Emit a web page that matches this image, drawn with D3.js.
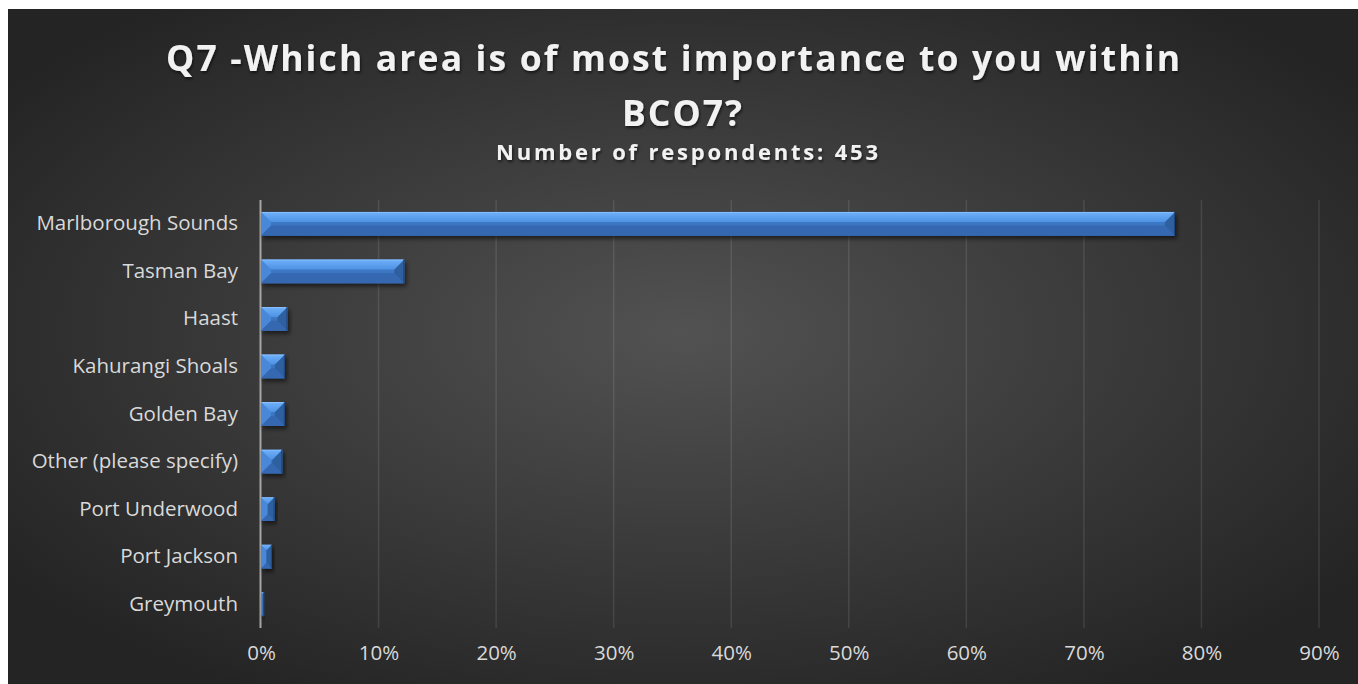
<!DOCTYPE html>
<html>
<head>
<meta charset="utf-8">
<script src="https://cdnjs.cloudflare.com/ajax/libs/d3/7.8.5/d3.min.js"></script>
<style>
  html, body { margin: 0; padding: 0; background: #fff; }
  svg { display: block; }
</style>
</head>
<body>
<div id="root"></div>
<script>
// data
var categories = ["Marlborough Sounds", "Tasman Bay", "Haast", "Kahurangi Shoals", "Golden Bay",
                  "Other (please specify)", "Port Underwood", "Port Jackson", "Greymouth"]
var respondents = [352, 55, 10, 9, 9, 8, 5, 4, 1]
var totalRespondents = 453
var tickValues = [0, 0.1, 0.2, 0.3, 0.4, 0.5, 0.6, 0.7, 0.8, 0.9]
var titleLines = ["Q7 -Which area is of most importance to you within", "BCO7?"]
var subtitle = "Number of respondents: 453"

window.onload = function () {
    var width = 1358, height = 684
    var font = "'Open Sans', 'DejaVu Sans', sans-serif"
    var svg = d3.select("#root").append("svg")
        .attr("width", width)
        .attr("height", height)

    var defs = svg.append("defs")
    var bg = defs.append("radialGradient").attr("id", "bg")
        .attr("cx", "50%").attr("cy", "48%").attr("r", "62%")
    bg.append("stop").attr("offset", "0%").attr("stop-color", "#525252")
    bg.append("stop").attr("offset", "100%").attr("stop-color", "#242424")

    var topG = defs.append("linearGradient").attr("id", "topFacet").attr("x1", 0).attr("y1", 0).attr("x2", 0).attr("y2", 1)
    topG.append("stop").attr("offset", "0%").attr("stop-color", "#95c8ff")
    topG.append("stop").attr("offset", "15%").attr("stop-color", "#6aacf6")
    topG.append("stop").attr("offset", "100%").attr("stop-color", "#4e92e4")
    var bodyG = defs.append("linearGradient").attr("id", "body").attr("x1", 0).attr("y1", 0).attr("x2", 0).attr("y2", 1)
    bodyG.append("stop").attr("offset", "0%").attr("stop-color", "#4484d4")
    bodyG.append("stop").attr("offset", "100%").attr("stop-color", "#3468b0")

    var shadow = defs.append("filter").attr("id", "shadow")
        .attr("x", "-10%").attr("y", "-30%").attr("width", "130%").attr("height", "180%")
    shadow.append("feDropShadow").attr("dx", 2).attr("dy", 3).attr("stdDeviation", 2)
        .attr("flood-color", "#000").attr("flood-opacity", 0.55)
    var tshadow = defs.append("filter").attr("id", "tshadow")
    tshadow.append("feDropShadow").attr("dx", 1).attr("dy", 2).attr("stdDeviation", 1.5)
        .attr("flood-color", "#000").attr("flood-opacity", 0.6)

    svg.append("rect")
        .attr("x", 8).attr("y", 9)
        .attr("width", width - 8).attr("height", height - 9)
        .attr("fill", "url(#bg)")

    // titles
    var title = svg.append("g").attr("filter", "url(#tshadow)")
        .attr("fill", "#f2f2f2").attr("font-family", font).attr("font-weight", "bold")
    title.append("text")
        .attr("x", 673).attr("y", 71)
        .attr("text-anchor", "middle").attr("font-size", 35.5)
        .attr("textLength", 1014).attr("lengthAdjust", "spacing")
        .text(titleLines[0])
    title.append("text")
        .attr("x", 683).attr("y", 126)
        .attr("text-anchor", "middle").attr("font-size", 35.5)
        .attr("letter-spacing", 2)
        .text(titleLines[1])
    title.append("text")
        .attr("x", 687).attr("y", 160)
        .attr("text-anchor", "middle").attr("font-size", 22)
        .attr("textLength", 382).attr("lengthAdjust", "spacing")
        .text(subtitle)

    var x = d3.scaleLinear().domain([0, 0.9]).range([261, 1319])
    var y = d3.scaleBand().domain(categories).range([200, 628]).paddingInner(0.5).paddingOuter(0.25)

    // gridlines
    svg.append("g")
        .selectAll("line")
        .data(tickValues.slice(1))
        .enter()
        .append("line")
        .attr("x1", function (d) { return x(d) })
        .attr("x2", function (d) { return x(d) })
        .attr("y1", 200).attr("y2", 628)
        .attr("stroke", "#ffffff").attr("stroke-opacity", 0.1).attr("stroke-width", 1.5)

    // vertical axis line
    svg.append("line")
        .attr("x1", x(0) - 0.5).attr("x2", x(0) - 0.5)
        .attr("y1", 200).attr("y2", 628)
        .attr("stroke", "#a6a6a6").attr("stroke-width", 2)

    // x axis labels
    var xAxis = d3.axisBottom(x).tickValues(tickValues).tickFormat(d3.format(".0%")).tickSize(0).tickPadding(0)
    var xg = svg.append("g").attr("transform", "translate(0,645)").call(xAxis)
    xg.select(".domain").remove()
    xg.selectAll("text").attr("font-family", font).attr("font-size", 20.5).attr("fill", "#d9d9d9")

    // y axis labels
    var yAxis = d3.axisLeft(y).tickSize(0).tickPadding(23)
    var yg = svg.append("g").attr("transform", "translate(261,0)").call(yAxis)
    yg.select(".domain").remove()
    yg.selectAll("text").attr("font-family", font).attr("font-size", 20.5).attr("fill", "#d9d9d9")

    // bars
    var bars = svg.append("g").selectAll("g.bar")
        .data(categories.map(function (c, i) { return { name: c, value: respondents[i] / totalRespondents } }))
        .enter()
        .append("g")
        .attr("class", "bar")
        .attr("filter", "url(#shadow)")

    bars.each(function (d) {
        var g = d3.select(this)
        var x0 = x(0), x1 = x(d.value) + 0.5
        var y0 = y(d.name), y1 = y0 + y.bandwidth()
        var w = x1 - x0
        var b = Math.min(10, w / 2, y.bandwidth() / 2)
        g.append("rect").attr("x", x0).attr("y", y0).attr("width", w).attr("height", y1 - y0).attr("fill", "url(#body)")
        // left facet
        g.append("polygon").attr("points", [[x0, y0], [x0 + b, y0 + b], [x0 + b, y1 - b], [x0, y1]].join(" "))
            .attr("fill", "#4a88d8")
        // right facet
        g.append("polygon").attr("points", [[x1, y0], [x1 - b, y0 + b], [x1 - b, y1 - b], [x1, y1]].join(" "))
            .attr("fill", "#2f5f9f")
        // bottom facet
        g.append("polygon").attr("points", [[x0, y1], [x0 + b, y1 - b], [x1 - b, y1 - b], [x1, y1]].join(" "))
            .attr("fill", "#3668b0")
        // top facet
        g.append("polygon").attr("points", [[x0, y0], [x1, y0], [x1 - b, y0 + b], [x0 + b, y0 + b]].join(" "))
            .attr("fill", "url(#topFacet)")
        g.append("line").attr("x1", x1 - 0.5).attr("x2", x1 - 0.5).attr("y1", y0).attr("y2", y1)
            .attr("stroke", "#1f4680").attr("stroke-width", 1)
    })
}
</script>
</body>
</html>
